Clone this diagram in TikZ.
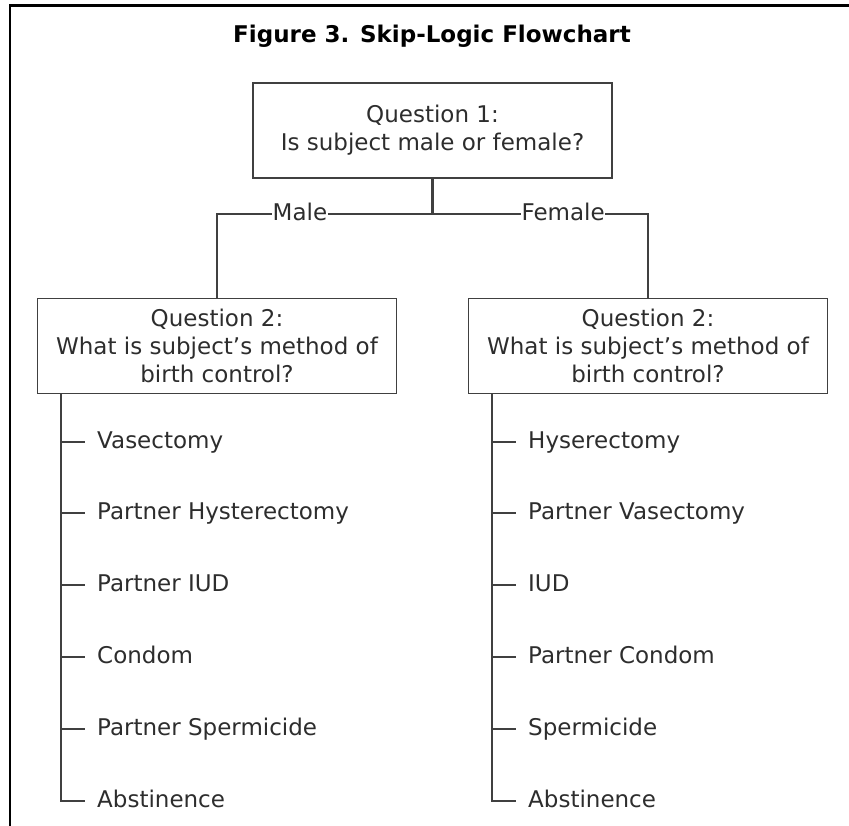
\documentclass[tikz,border=0pt]{standalone}
\usepackage{fontspec}
\setmainfont{DejaVu Sans}
\usetikzlibrary{positioning,calc}
\definecolor{boxgray}{RGB}{64,64,64}
\definecolor{inkgray}{RGB}{45,45,45}

\begin{document}
\fontsize{23}{28}\selectfont
\begin{tikzpicture}[x=1pt, y=-1pt,
    question/.style={draw=boxgray, line width=1.8pt, minimum width=359pt, minimum height=95pt, align=center, inner sep=0pt, text=inkgray},
    answer/.style={anchor=mid west, inner xsep=12pt, inner ysep=0pt, text=inkgray},
    branch/.style={fill=white, inner sep=0.5pt, yshift=2pt, text=inkgray},
    link/.style={draw=boxgray, line width=1.8pt}]
      \useasboundingbox (0,0) rectangle (849,826);
      \draw[line width=2.6pt] (10,826) -- (10,5.7) -- (849,5.7);

      \node[font=\bfseries] (title) at (432,36) {Figure 3. Skip-Logic Flowchart};

      \node[question] (q1) at (432.5,130.5) {Question 1:\\Is subject male or female?};
      \node[question] (q2_m) at (217,346) {Question 2:\\What is subject's method of\\birth control?};
      \node[question] (q2_f) at (648,346) {Question 2:\\What is subject's method of\\birth control?};

      \coordinate (split) at (q1.south |- 0,214);
      \draw[link, line width=2.6pt] (q1.south) -- (split);
      \draw[link] (split) -- node[branch, pos=0.615] (male) {Male} (split -| q2_m.north) -- (q2_m.north);
      \draw[link] (split) -- node[branch, pos=0.606] (female) {Female} (split -| q2_f.north) -- (q2_f.north);

      % male answers
      \coordinate (trunk_m) at ($(q2_m.south west) + (24,0)$);
      \node[answer] (vas_m) at (85,442) {Vasectomy};
      \node[answer] (hys_m) at (85,513) {Partner Hysterectomy};
      \node[answer] (iud_m) at (85,585) {Partner IUD};
      \node[answer] (con_m) at (85,657) {Condom};
      \node[answer] (spe_m) at (85,729) {Partner Spermicide};
      \node[answer] (abs_m) at (85,801) {Abstinence};

      \draw[link] (trunk_m) |- (abs_m.mid west);
      \draw[link] (vas_m.mid west -| trunk_m) -- (vas_m.mid west);
      \draw[link] (hys_m.mid west -| trunk_m) -- (hys_m.mid west);
      \draw[link] (iud_m.mid west -| trunk_m) -- (iud_m.mid west);
      \draw[link] (con_m.mid west -| trunk_m) -- (con_m.mid west);
      \draw[link] (spe_m.mid west -| trunk_m) -- (spe_m.mid west);

      % female answers
      \coordinate (trunk_f) at ($(q2_f.south west) + (24,0)$);
      \node[answer] (hys_f) at (516,442) {Hyserectomy};
      \node[answer] (vas_f) at (516,513) {Partner Vasectomy};
      \node[answer] (iud_f) at (516,585) {IUD};
      \node[answer] (con_f) at (516,657) {Partner Condom};
      \node[answer] (spe_f) at (516,729) {Spermicide};
      \node[answer] (abs_f) at (516,801) {Abstinence};

      \draw[link] (trunk_f) |- (abs_f.mid west);
      \draw[link] (hys_f.mid west -| trunk_f) -- (hys_f.mid west);
      \draw[link] (vas_f.mid west -| trunk_f) -- (vas_f.mid west);
      \draw[link] (iud_f.mid west -| trunk_f) -- (iud_f.mid west);
      \draw[link] (con_f.mid west -| trunk_f) -- (con_f.mid west);
      \draw[link] (spe_f.mid west -| trunk_f) -- (spe_f.mid west);
\end{tikzpicture}
\end{document}
